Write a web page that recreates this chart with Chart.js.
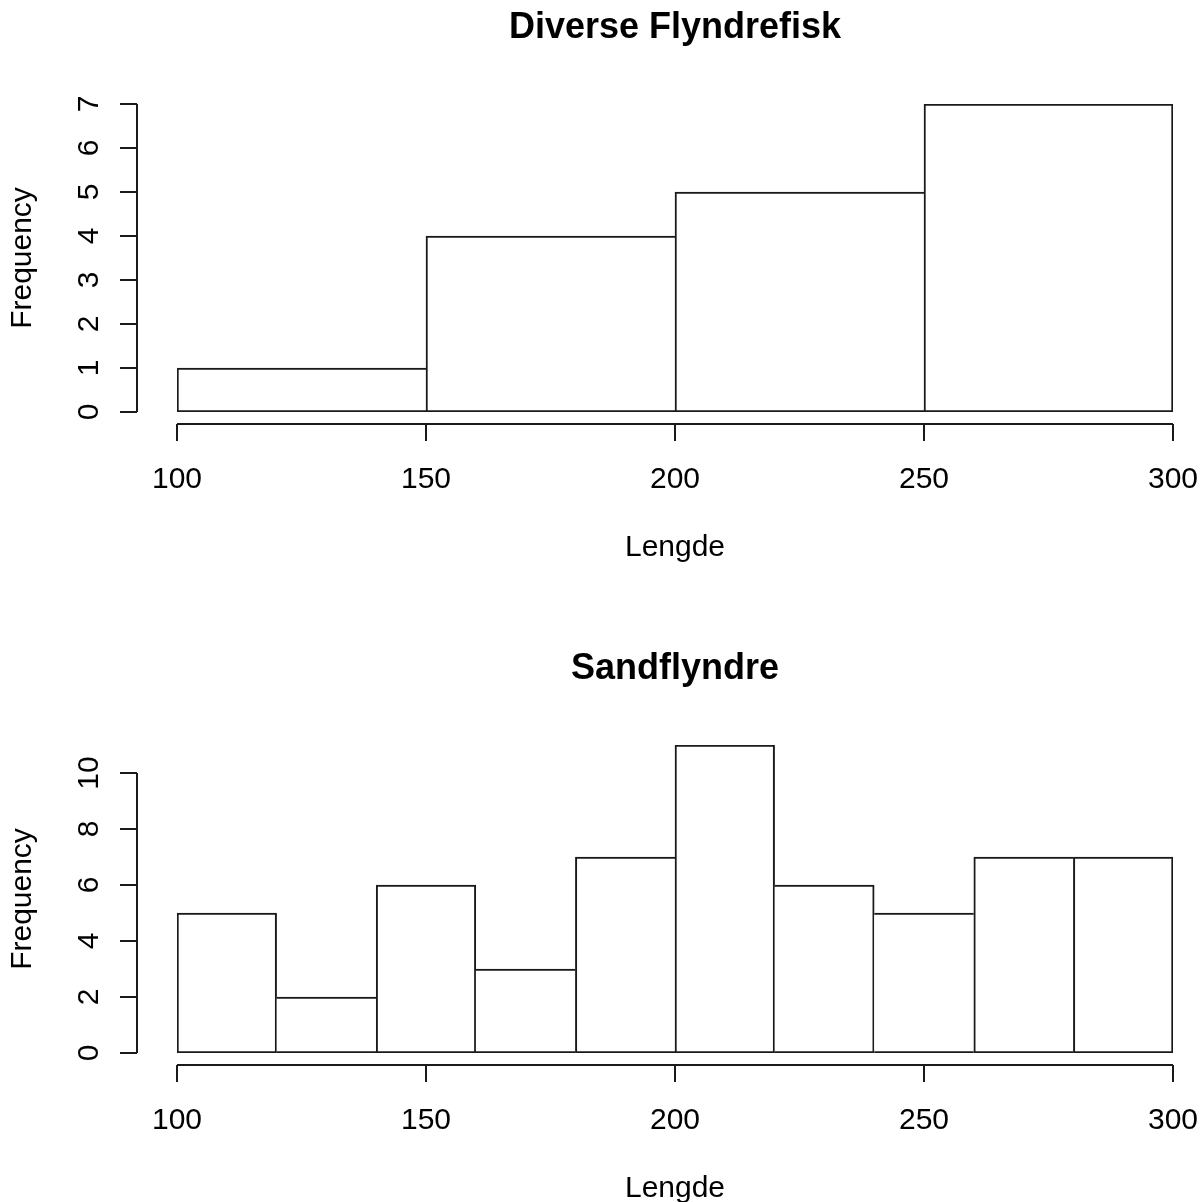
<!DOCTYPE html>
<html>
<head>
<meta charset="utf-8">
<script src="https://cdn.jsdelivr.net/npm/chart.js@4.4.1/dist/chart.umd.min.js"></script>
<style>
  html, body { margin: 0; padding: 0; background: #fff; overflow: hidden; }
  #wrap { position: relative; width: 1202px; height: 1202px; overflow: hidden; }
  canvas { position: absolute; left: 0; }
</style>
</head>
<body>
<div id="wrap">
  <canvas id="topChart" width="1202" height="641" style="top:0"></canvas>
  <canvas id="bottomChart" width="1202" height="641" style="top:641px"></canvas>
</div>
<script>
// histogram bins (edges) and counts
const topBreaks = [100, 150, 200, 250, 300];
const topCounts = [1, 4, 5, 7];
const bottomBreaks = [100, 120, 140, 160, 180, 200, 220, 240, 260, 280, 300];
const bottomCounts = [5, 2, 6, 3, 7, 11, 6, 5, 7, 7];

// axis ticks
const xTicks = [100, 150, 200, 250, 300];
const topYTicks = [0, 1, 2, 3, 4, 5, 6, 7];
const bottomYTicks = [0, 2, 4, 6, 8, 10];

const FAMILY = '"Liberation Sans", Arial, sans-serif';
const INK = '#1a1a1a';

// width of widest y label, so the rotated labels sit centred on one line
const measureCtx = document.createElement('canvas').getContext('2d');
measureCtx.font = '30px ' + FAMILY;
const widestLabel = (ticks) => Math.max(...ticks.map(t => measureCtx.measureText(String(t)).width));

const makeHist = (canvasId, title, breaks, counts, yTicks) => {
    const points = counts.map((c, i) => ({ x: (breaks[i] + breaks[i + 1]) / 2, y: c }));
    const last = counts.length - 1;

    // only one outline on each shared edge, drawn by the taller bar
    const edgeWidths = (ctx) => {
        const i = ctx.dataIndex;
        const w = 2;
        return {
            top: w,
            bottom: w,
            left: (i === 0 || counts[i] >= counts[i - 1]) ? w : 0,
            right: (i === last || counts[i] > counts[i + 1]) ? w : 0
        };
    };

    // R style detached axes: lines sit 4% of the range outside the data
    const rAxes = {
        id: 'rAxes',
        afterDraw(chart) {
            const { ctx } = chart;
            const xs = chart.scales.x;
            const ys = chart.scales.y;
            const axisX = Math.round(xs.getPixelForValue(xs.min - 0.04 * (xs.max - xs.min)));
            const axisY = Math.round(ys.getPixelForValue(ys.min - 0.04 * (ys.max - ys.min)));
            const tick = 17;

            ctx.save();
            ctx.strokeStyle = INK;
            ctx.lineWidth = 2;
            ctx.beginPath();
            // y axis
            const y0 = Math.round(ys.getPixelForValue(yTicks[0]));
            const y1 = Math.round(ys.getPixelForValue(yTicks[yTicks.length - 1]));
            ctx.moveTo(axisX, y0);
            ctx.lineTo(axisX, y1);
            yTicks.forEach(v => {
                const py = Math.round(ys.getPixelForValue(v));
                ctx.moveTo(axisX - tick, py);
                ctx.lineTo(axisX, py);
            });
            // x axis
            const x0 = Math.round(xs.getPixelForValue(xTicks[0]));
            const x1 = Math.round(xs.getPixelForValue(xTicks[xTicks.length - 1]));
            ctx.moveTo(x0, axisY);
            ctx.lineTo(x1, axisY);
            xTicks.forEach(v => {
                const px = Math.round(xs.getPixelForValue(v));
                ctx.moveTo(px, axisY);
                ctx.lineTo(px, axisY + tick);
            });
            ctx.stroke();
            ctx.restore();
        }
    };

    const noPadding = (s) => {
        s.paddingLeft = 0;
        s.paddingRight = 0;
        s.paddingTop = 0;
        s.paddingBottom = 0;
    };

    return new Chart(document.getElementById(canvasId), {
        type: 'bar',
        data: {
            datasets: [{
                data: points,
                backgroundColor: '#ffffff',
                borderColor: INK,
                borderWidth: edgeWidths,
                borderSkipped: false,
                barPercentage: 1,
                categoryPercentage: 1
            }]
        },
        options: {
            responsive: false,
            animation: false,
            layout: { padding: { top: 0, left: 0, right: 29, bottom: 0 } },
            plugins: {
                legend: { display: false },
                tooltip: { enabled: false },
                title: {
                    display: true,
                    fullSize: false, // centre over the plot, as R does
                    text: title,
                    color: '#000',
                    font: { family: FAMILY, size: 36, weight: 'bold' },
                    padding: { top: 6.4, bottom: 54.4 }
                }
            },
            scales: {
                x: {
                    type: 'linear',
                    offset: false,
                    min: xTicks[0],
                    max: xTicks[xTicks.length - 1],
                    afterBuildTicks: s => { s.ticks = xTicks.map(v => ({ value: v })); },
                    afterFit: s => { s.height = 229; noPadding(s); },
                    grid: { display: false, drawTicks: false },
                    border: { display: false },
                    ticks: {
                        color: '#000',
                        font: { family: FAMILY, size: 30 },
                        padding: 50,
                        maxRotation: 0,
                        autoSkip: false
                    },
                    title: {
                        display: true,
                        text: 'Lengde',
                        color: '#000',
                        font: { family: FAMILY, size: 30 },
                        padding: { top: 0, bottom: 75 }
                    }
                },
                y: {
                    type: 'linear',
                    min: 0,
                    max: Math.max(...counts),
                    afterBuildTicks: s => { s.ticks = yTicks.map(v => ({ value: v })); },
                    afterFit: s => { s.width = 177; noPadding(s); },
                    grid: { display: false, drawTicks: false },
                    border: { display: false },
                    ticks: {
                        color: '#000',
                        font: { family: FAMILY, size: 30 },
                        minRotation: 90,
                        maxRotation: 90,
                        crossAlign: 'center',
                        padding: 87 - widestLabel(yTicks) / 2,
                        autoSkip: false
                    },
                    title: {
                        display: true,
                        text: 'Frequency',
                        color: '#000',
                        font: { family: FAMILY, size: 30 },
                        padding: { top: 5, bottom: 0 }
                    }
                }
            }
        },
        plugins: [rAxes]
    });
};

makeHist('topChart', 'Diverse Flyndrefisk', topBreaks, topCounts, topYTicks);
makeHist('bottomChart', 'Sandflyndre', bottomBreaks, bottomCounts, bottomYTicks);
</script>
</body>
</html>
